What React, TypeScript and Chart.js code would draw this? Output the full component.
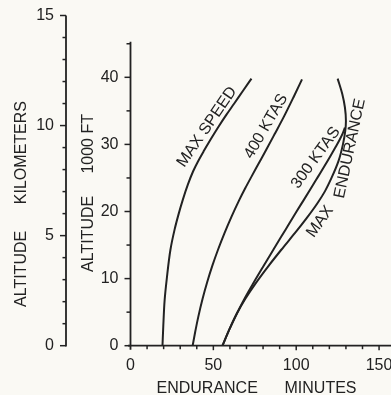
import React, { useEffect, useRef } from 'react';
import { Chart, registerables } from 'chart.js';

Chart.register(...registerables);

// ---- Data (endurance in minutes, altitude in 1000 ft) ----
const maxSpeedEndurance = [19.3, 19.8, 20.6, 21.9, 24.1, 26.6, 28.9, 31.5, 34.6, 37.8, 40.8, 44.2, 48.5, 53.0, 57.8, 62.6, 67.9, 73.0];
const maxSpeedAltitude = [0, 3, 6.8, 10, 14.3, 17.3, 19.5, 21.7, 24.0, 26.0, 27.5, 29.0, 30.8, 32.6, 34.4, 36.1, 38.0, 39.8];

const ktas400Endurance = [37.5, 39.0, 40.9, 43.5, 46.3, 49.5, 52.8, 56.6, 60.9, 65.6, 69.3, 73.0, 77.0, 81.9, 86.9, 92.5, 98.3, 103.5];
const ktas400Altitude = [0, 2, 4.3, 7, 9.5, 12, 14.3, 16.7, 19.2, 21.7, 23.5, 25.2, 27.0, 29.2, 31.5, 34.1, 37.0, 39.7];

const ktas300Endurance = [55.5, 59.6, 64.2, 68.8, 74.1, 80.1, 86.2, 91.1, 95.8, 100.2, 104.5, 109.0, 113.2, 116.9, 120.5, 123.5, 126.2, 128.0, 129.4];
const ktas300Altitude = [0, 2.4, 4.8, 7.0, 9.3, 11.8, 14.3, 16.3, 18.2, 20.0, 21.7, 23.5, 25.2, 26.7, 28.2, 29.5, 30.7, 31.6, 32.5];

const maxEnduranceEndurance = [55.5, 59.6, 64.2, 69.3, 75.5, 83.0, 91.0, 99.3, 106.3, 113.0, 117.3, 121.3, 125.5, 128.2, 129.6, 130.0, 129.4, 127.8, 125.0];
const maxEnduranceAltitude = [0, 2.4, 4.8, 7.0, 9.3, 11.8, 14.3, 16.8, 19.0, 21.3, 23.0, 25.0, 27.5, 30.0, 32.0, 33.5, 35.5, 37.5, 39.8];

// ---- Tick labels ----
const minuteTickLabels = [0, 50, 100, 150];
const kftTickLabels = [0, 10, 20, 30, 40];
const kmTickLabels = [0, 5, 10, 15];

// ---- Curve labels: text, anchor (minutes, kft), angle in degrees ----
const curveLabelText = ['MAX SPEED', '400 KTAS', '300 KTAS', 'MAX', 'ENDURANCE'];
const curveLabelMinutes = [46.2, 81.8, 111.8, 114.4, 132.5];
const curveLabelKft = [32.6, 32.7, 28.0, 18.5, 29.4];
const curveLabelAngle = [-55.5, -60, -54, -55, -78];

const FT_PER_KM = 1 / 0.3048; // kft per km
const FONT = '"Liberation Sans", Arial, Helvetica, sans-serif';
const INK = '#222222';
const BG = '#faf9f4';

const zip = (xs: number[], ys: number[]) => xs.map((x, i) => ({ x, y: ys[i] }));

const decorPlugin = {
  id: 'decor',
  beforeDraw(chart: any) {
    const ctx = chart.ctx;
    ctx.save();
    ctx.fillStyle = BG;
    ctx.fillRect(0, 0, chart.width, chart.height);
    ctx.restore();
  },
  afterDraw(chart: any) {
    const ctx = chart.ctx;
    const { x, y, y2 } = chart.scales;
    ctx.save();
    ctx.strokeStyle = INK;
    ctx.lineCap = 'butt';
    const line = (x1: number, y1: number, x2: number, y2p: number, w: number) => {
      ctx.lineWidth = w;
      ctx.beginPath();
      ctx.moveTo(x1, y1);
      ctx.lineTo(x2, y2p);
      ctx.stroke();
    };
    // km axis
    const kx = y2.right;
    line(kx, y2.getPixelForValue(0) + 0.8, kx, y2.getPixelForValue(15), 1.8);
    for (let k = 0; k <= 15; k++) {
      const py = y2.getPixelForValue(k);
      line(kx - (k % 5 === 0 ? 6 : 3.5), py, kx, py, 1.5);
    }
    // kft axis
    const fx = y.right;
    line(fx, y.getPixelForValue(-0.6), fx, y.getPixelForValue(45.3), 1.8);
    for (let v = 0; v <= 45; v += 5) {
      const py = y.getPixelForValue(v);
      line(fx - (v % 10 === 0 ? 6 : 4), py, fx, py, 1.5);
    }
    // minutes axis
    const by = x.top;
    line(x.getPixelForValue(-1.5), by, chart.width, by, 1.8);
    for (let v = 10; v <= 150; v += 10) {
      const px = x.getPixelForValue(v);
      line(px, by, px, by + (v % 50 === 0 ? 4.5 : 3.5), 1.5);
    }
    // curve labels
    ctx.fillStyle = INK;
    ctx.font = `16px ${FONT}`;
    ctx.textAlign = 'center';
    ctx.textBaseline = 'middle';
    curveLabelText.forEach((t, i) => {
      const px = x.getPixelForValue(curveLabelMinutes[i]);
      const py = y.getPixelForValue(curveLabelKft[i]);
      ctx.save();
      ctx.translate(px, py);
      ctx.rotate((curveLabelAngle[i] * Math.PI) / 180);
      ctx.fillText(t, 0, 0);
      ctx.restore();
    });
    // axis titles
    ctx.font = `16px ${FONT}`;
    ctx.save();
    ctx.translate(22, 204);
    ctx.rotate(-Math.PI / 2);
    ctx.fillText('ALTITUDE      KILOMETERS', 0, 0);
    ctx.restore();
    ctx.save();
    ctx.translate(88.5, 193);
    ctx.rotate(-Math.PI / 2);
    ctx.fillText('ALTITUDE     1000 FT', 0, 0);
    ctx.restore();
    ctx.fillText('ENDURANCE      MINUTES', 256.5, 389);
    ctx.restore();
  },
};

export default function App() {
  const ref = useRef<HTMLCanvasElement | null>(null);
  useEffect(() => {
    if (!ref.current) return;
    const lineDs = (label: string, xs: number[], ys: number[]) => ({
      label,
      data: zip(xs, ys),
      borderColor: INK,
      borderWidth: 2,
      pointRadius: 0,
      cubicInterpolationMode: 'monotone',
      fill: false,
      xAxisID: 'x',
      yAxisID: 'y',
    });
    const tickFont = { family: FONT, size: 16 };
    const chart = new Chart(ref.current, {
      type: 'line',
      data: {
        datasets: [
          lineDs('MAX SPEED', maxSpeedEndurance, maxSpeedAltitude),
          lineDs('400 KTAS', ktas400Endurance, ktas400Altitude),
          lineDs('300 KTAS', ktas300Endurance, ktas300Altitude),
          lineDs('MAX ENDURANCE', maxEnduranceEndurance, maxEnduranceAltitude),
        ],
      },
      options: {
        indexAxis: 'y',
        responsive: false,
        animation: false,
        devicePixelRatio: 1,
        layout: { padding: { top: 15.5, left: 0, right: 0, bottom: 0 }, autoPadding: false },
        plugins: { legend: { display: false }, tooltip: { enabled: false } },
        scales: {
          x: {
            type: 'linear',
            position: 'bottom',
            min: 0,
            max: 157.2,
            afterBuildTicks: (s: any) => { s.ticks = minuteTickLabels.map((v) => ({ value: v })); },
            afterFit: (s: any) => { s.height = 49.3; s.paddingLeft = 0; s.paddingRight = 0; },
            grid: { display: false, drawTicks: false, tickLength: 0 },
            border: { display: false },
            ticks: { font: tickFont, color: INK, padding: 10, maxRotation: 0, autoSkip: false },
          },
          y: {
            type: 'linear',
            position: 'left',
            weight: 0,
            min: 0,
            max: 15 * FT_PER_KM,
            afterBuildTicks: (s: any) => { s.ticks = kftTickLabels.map((v) => ({ value: v })); },
            afterFit: (s: any) => { s.width = 64.5; s.paddingTop = 0; s.paddingBottom = 0; },
            grid: { display: false, drawTicks: false, tickLength: 0 },
            border: { display: false },
            ticks: { font: tickFont, color: INK, padding: 12, autoSkip: false },
          },
          y2: {
            type: 'linear',
            position: 'left',
            weight: 1,
            min: 0,
            max: 15,
            afterBuildTicks: (s: any) => { s.ticks = kmTickLabels.map((v) => ({ value: v })); },
            afterFit: (s: any) => { s.width = 66; s.paddingTop = 0; s.paddingBottom = 0; },
            grid: { display: false, drawTicks: false, tickLength: 0 },
            border: { display: false },
            ticks: { font: tickFont, color: INK, padding: 12, autoSkip: false },
          },
        },
      } as any,
      plugins: [decorPlugin],
    });
    return () => chart.destroy();
  }, []);
  return (
    <div style={{ position: 'absolute', left: 0, top: 0, width: 391, height: 395, background: BG }}>
      <canvas ref={ref} width={391} height={395} style={{ display: 'block' }} />
    </div>
  );
}
